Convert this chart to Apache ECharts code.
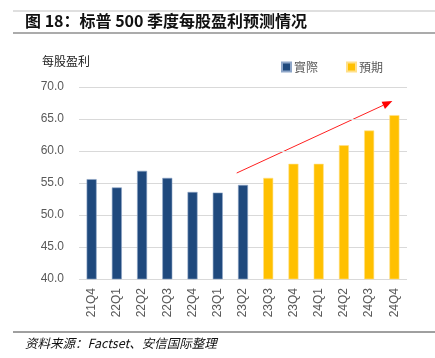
<!DOCTYPE html>
<html>
<head>
<meta charset="utf-8">
<script src="https://cdn.jsdelivr.net/npm/echarts@6/dist/echarts.min.js"></script>
<style>html,body{margin:0;padding:0;background:#fff;}#c{width:435px;height:358px;}</style>
</head>
<body>
<div id="c"></div>
<script>
const categories = ['21Q4','22Q1','22Q2','22Q3','22Q4','23Q1','23Q2','23Q3','23Q4','24Q1','24Q2','24Q3','24Q4'];
const actual   = [55.6, 54.3, 56.9, 55.8, 53.6, 53.5, 54.7, null, null, null, null, null, null];
const forecast = [null, null, null, null, null, null, null, 55.8, 58.0, 58.0, 60.9, 63.2, 65.6];
const yTicks = [40, 70, 5];
const seriesNames = ['實際', '預期'];

const chart = echarts.init(document.getElementById('c'), null, {renderer: 'canvas'});
const FONT = '"Liberation Sans", Arial, sans-serif';

const option = {
  animation: false,
  backgroundColor: '#fff',
  grid: {left: 79, right: 28, top: 87, bottom: 79, containLabel: false},
  legend: {
    data: seriesNames,
    top: 56, left: 276,
    itemWidth: 9, itemHeight: 9, itemGap: 28,
    icon: 'rect',
    textStyle: {color: '#595959', fontSize: 12, fontFamily: '"Noto Sans CJK TC", serif', padding: [0,0,0,-2]}
  },
  xAxis: {
    type: 'category',
    data: categories,
    axisLine: {show: false},
    axisTick: {show: false},
    axisLabel: {rotate: 90, margin: 9, color: '#595959', fontSize: 12, fontFamily: FONT}
  },
  yAxis: {
    type: 'value',
    min: yTicks[0], max: yTicks[1], interval: yTicks[2],
    name: '每股盈利',
    nameLocation: 'end',
    nameGap: 20,
    nameTextStyle: {color: '#222', fontSize: 12, fontFamily: '"Noto Sans CJK TC", serif', align: 'left', padding: [0,0,0,-37]},
    axisLine: {show: false},
    axisTick: {show: false},
    splitLine: {lineStyle: {color: '#d9d9d9', width: 1}},
    axisLabel: {color: '#595959', fontSize: 12, fontFamily: FONT, margin: 15,
      formatter: v => v.toFixed(1)}
  },
  series: [
    {name: seriesNames[0], type: 'bar', stack: 'a', data: actual, barWidth: 10,
     itemStyle: {color: '#1f497d', borderColor: '#8ea6c8', borderWidth: 0.6}},
    {name: seriesNames[1], type: 'bar', stack: 'a', data: forecast, barWidth: 10,
     itemStyle: {color: '#ffc000', borderColor: '#ffe08a', borderWidth: 0.6}}
  ],
  graphic: [
    {type: 'line', shape: {x1: 13, y1: 11, x2: 435, y2: 11}, style: {stroke: '#bfbfbf', lineWidth: 1}},
    {type: 'line', shape: {x1: 13, y1: 33, x2: 435, y2: 33}, style: {stroke: '#595959', lineWidth: 1.2}},
    {type: 'text', left: 25, top: 13, style: {text: '图 18：标普 500 季度每股盈利预测情况', fill: '#111', font: 'bold 16px "Noto Sans CJK SC", sans-serif'}},
    {type: 'line', shape: {x1: 13, y1: 332, x2: 435, y2: 332}, style: {stroke: '#404040', lineWidth: 1}},
    {type: 'text', left: 25, top: 337, style: {text: '资料来源：Factset、安信国际整理', fill: '#111', font: 'italic 12.5px "Noto Sans CJK SC", sans-serif'}}
  ]
};
chart.setOption(option);

// trend arrow annotation, positioned relative to the axes
const p0 = chart.convertToPixel({gridIndex: 0}, [5, 56.56]);
const p1 = chart.convertToPixel({gridIndex: 0}, [6, 56.56]);
const pe = chart.convertToPixel({gridIndex: 0}, [11, 67.8]);
const step = p1[0] - p0[0];
const sx = p0[0] + 0.75 * step, sy = p0[1];
const ex = pe[0] + 0.92 * step, ey = pe[1];
const dx = ex - sx, dy = ey - sy, len = Math.hypot(dx, dy);
const ux = dx / len, uy = dy / len;
const bx = ex - 10 * ux, by = ey - 10 * uy;
const nx = -uy, ny = ux;
chart.setOption({graphic: option.graphic.concat([
  {type: 'line', shape: {x1: sx, y1: sy, x2: bx, y2: by}, style: {stroke: '#ff2020', lineWidth: 1}},
  {type: 'polygon', shape: {points: [[ex, ey], [bx + 4 * nx, by + 4 * ny], [bx - 4 * nx, by - 4 * ny]]}, style: {fill: '#ff0000'}}
])});
</script>
</body>
</html>
